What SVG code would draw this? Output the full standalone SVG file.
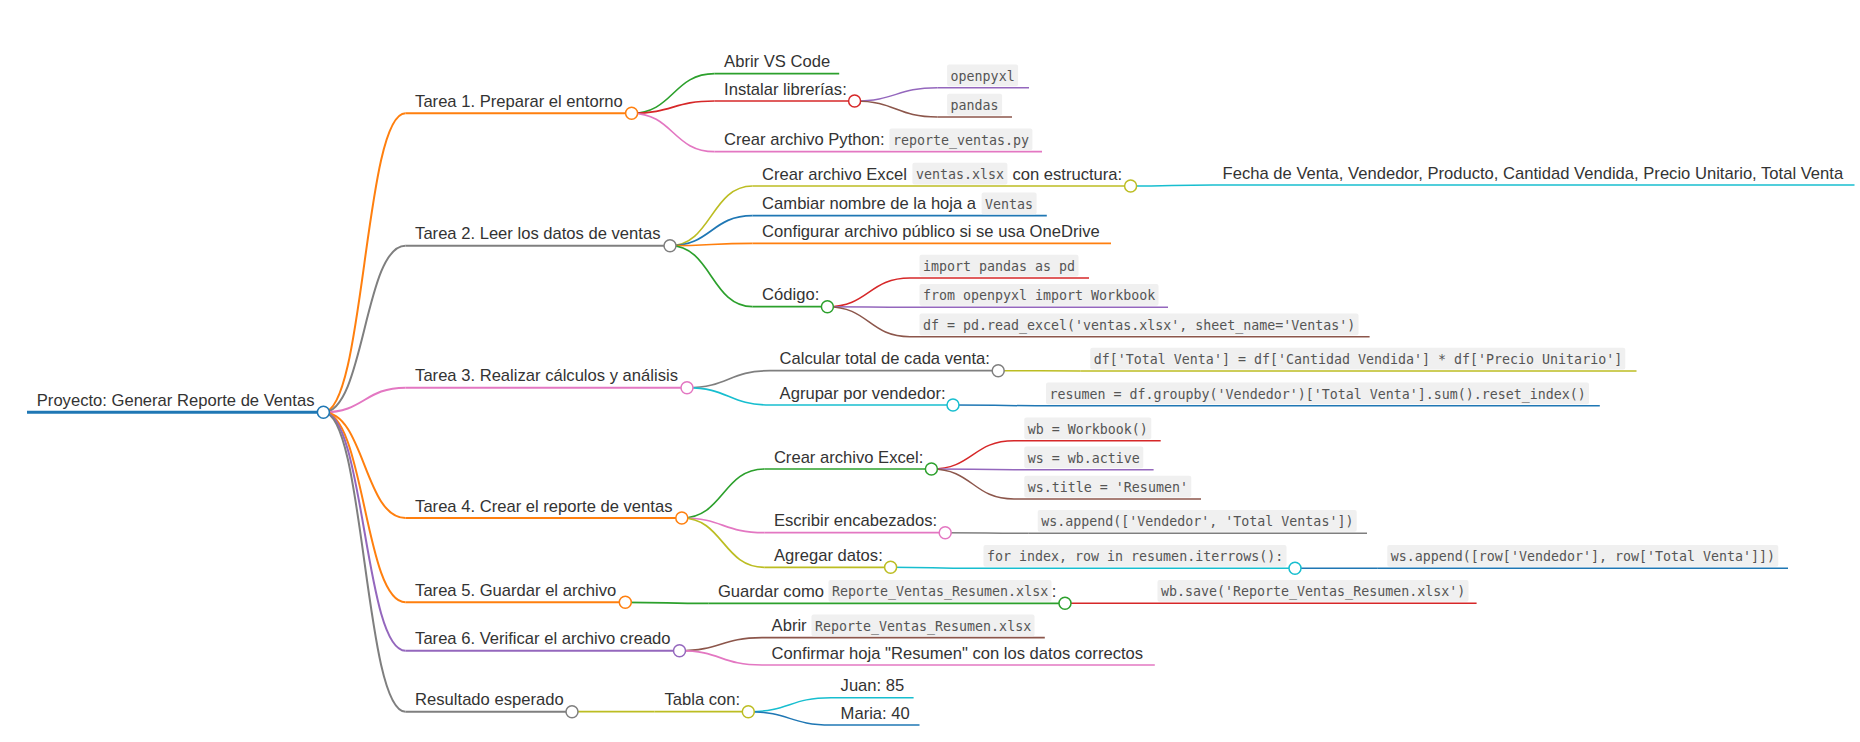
<svg xmlns="http://www.w3.org/2000/svg" width="1860" height="742" viewBox="0 0 1860 742">
<style>
  .t { font-family: "Liberation Sans", Arial, sans-serif; font-size: 16.6px; fill: #333; }
  .c { font-family: "DejaVu Sans Mono", monospace; font-size: 13.3px; fill: #555; }
  .box { fill: #f0f0f0; }
  .lnk { fill: none; }
  .dot { fill: #fff; stroke-width: 1.5; }
  .d0 { stroke-width: 3; } .d1 { stroke-width: 2; } .d2 { stroke-width: 1.67; } .d3 { stroke-width: 1.5; } .d4 { stroke-width: 1.4; }
  .blue { stroke: #1f77b4; } .orange { stroke: #ff7f0e; } .green { stroke: #2ca02c; } .red { stroke: #d62728; }
  .purple { stroke: #9467bd; } .brown { stroke: #8c564b; } .pink { stroke: #e377c2; } .gray { stroke: #7f7f7f; }
  .olive { stroke: #bcbd22; } .cyan { stroke: #17becf; }
</style>
<rect width="1860" height="742" fill="#fff"/>
<g id="connectors" class="lnk">
  <path class="d1 orange" d="M323.4,412.3 C364.45,412.3 364.45,113.3 405.5,113.3"/>
  <path class="d1 gray" d="M323.4,412.3 C364.45,412.3 364.45,245.7 405.5,245.7"/>
  <path class="d1 pink" d="M323.4,412.3 C364.45,412.3 364.45,387.7 405.5,387.7"/>
  <path class="d1 orange" d="M323.4,412.3 C364.45,412.3 364.45,518 405.5,518"/>
  <path class="d1 orange" d="M323.4,412.3 C364.45,412.3 364.45,602.3 405.5,602.3"/>
  <path class="d1 purple" d="M323.4,412.3 C364.45,412.3 364.45,650.7 405.5,650.7"/>
  <path class="d1 gray" d="M323.4,412.3 C364.45,412.3 364.45,711.7 405.5,711.7"/>

  <path class="d2 green" d="M631.6,113.3 C673.05,113.3 673.05,73.7 714.5,73.7"/>
  <path class="d2 red" d="M631.6,113.3 C673.05,113.3 673.05,101 714.5,101"/>
  <path class="d2 pink" d="M631.6,113.3 C673.05,113.3 673.05,151.7 714.5,151.7"/>
  <path class="d3 purple" d="M854.6,101 C896.05,101 896.05,87.7 937.5,87.7"/>
  <path class="d3 brown" d="M854.6,101 C896.05,101 896.05,117 937.5,117"/>

  <path class="d2 olive" d="M670,245.7 C711.25,245.7 711.25,186 752.5,186"/>
  <path class="d2 blue" d="M670,245.7 C711.25,245.7 711.25,215.7 752.5,215.7"/>
  <path class="d2 orange" d="M670,245.7 C711.25,245.7 711.25,243.3 752.5,243.3"/>
  <path class="d2 green" d="M670,245.7 C711.25,245.7 711.25,306.7 752.5,306.7"/>
  <path class="d3 cyan" d="M1130.6,186 C1171.8,186 1171.8,185 1213,185"/>
  <path class="d3 red" d="M827.4,306.7 C868.7,306.7 868.7,278 910,278"/>
  <path class="d3 purple" d="M827.4,306.7 C868.7,306.7 868.7,307.3 910,307.3"/>
  <path class="d3 brown" d="M827.4,306.7 C868.7,306.7 868.7,336.7 910,336.7"/>

  <path class="d2 gray" d="M687,387.7 C728.5,387.7 728.5,370.7 770,370.7"/>
  <path class="d2 cyan" d="M687,387.7 C728.5,387.7 728.5,405 770,405"/>
  <path class="d3 olive" d="M998.2,370.7 C1039.45,370.7 1039.45,371 1080.7,371"/>
  <path class="d3 blue" d="M953,405 C994.5,405 994.5,405.7 1036,405.7"/>

  <path class="d2 green" d="M681.8,518 C723.05,518 723.05,469 764.3,469"/>
  <path class="d2 pink" d="M681.8,518 C723.05,518 723.05,532.7 764.3,532.7"/>
  <path class="d2 olive" d="M681.8,518 C723.05,518 723.05,567.3 764.3,567.3"/>
  <path class="d3 red" d="M931.4,469 C972.7,469 972.7,440.7 1014,440.7"/>
  <path class="d3 purple" d="M931.4,469 C972.7,469 972.7,469.7 1014,469.7"/>
  <path class="d3 brown" d="M931.4,469 C972.7,469 972.7,499 1014,499"/>
  <path class="d3 gray" d="M945.2,532.7 C986.7,532.7 986.7,533.3 1028.2,533.3"/>
  <path class="d3 cyan" d="M890.6,567.3 C932.3,567.3 932.3,568.3 974,568.3"/>
  <path class="d4 blue" d="M1295,568.3 C1336.4,568.3 1336.4,568.3 1377.8,568.3"/>

  <path class="d2 green" d="M625.3,602.3 C666.8,602.3 666.8,603.3 708.3,603.3"/>
  <path class="d3 red" d="M1065,603.3 C1106.5,603.3 1106.5,603.3 1148,603.3"/>

  <path class="d2 brown" d="M679.5,650.7 C720.75,650.7 720.75,637.7 762,637.7"/>
  <path class="d2 pink" d="M679.5,650.7 C720.75,650.7 720.75,665 762,665"/>

  <path class="d2 olive" d="M572,711.7 C613.25,711.7 613.25,711.7 654.5,711.7"/>
  <path class="d3 cyan" d="M748.3,711.7 C789.65,711.7 789.65,697.7 831,697.7"/>
  <path class="d3 blue" d="M748.3,711.7 C789.65,711.7 789.65,725 831,725"/>
</g>

<g id="root">
  <line class="d0 blue" x1="27" y1="412.3" x2="323.4" y2="412.3"/>
  <text class="t" x="36.8" y="405.8">Proyecto: Generar Reporte de Ventas</text>
  <circle class="dot blue" cx="323.4" cy="412.3" r="6"/>
</g>

<g id="tarea1">
  <line class="d1 orange" x1="405.5" y1="113.3" x2="631.6" y2="113.3"/>
  <text class="t" x="415.1" y="106.8">Tarea 1. Preparar el entorno</text>
  <circle class="dot orange" cx="631.6" cy="113.3" r="6"/>
</g>
<g id="abrir-vscode">
  <line class="d2 green" x1="714.5" y1="73.7" x2="839.2" y2="73.7"/>
  <text class="t" x="724.1" y="67.2">Abrir VS Code</text>
</g>
<g id="instalar">
  <line class="d2 red" x1="714.5" y1="101" x2="854.6" y2="101"/>
  <text class="t" x="724.1" y="94.5">Instalar librerías:</text>
  <circle class="dot red" cx="854.6" cy="101" r="6"/>
</g>
<g id="openpyxl">
  <line class="d3 purple" x1="937.5" y1="87.7" x2="1029" y2="87.7"/>
  <rect class="box" x="947.1" y="64.5" width="71" height="21.7" rx="2"/>
  <text class="c" x="950.6" y="80.7">openpyxl</text>
</g>
<g id="pandas">
  <line class="d3 brown" x1="937.5" y1="117" x2="1012" y2="117"/>
  <rect class="box" x="947.1" y="93.8" width="55" height="21.7" rx="2"/>
  <text class="c" x="950.6" y="110">pandas</text>
</g>
<g id="crear-python">
  <line class="d2 pink" x1="714.5" y1="151.7" x2="1042" y2="151.7"/>
  <text class="t" x="724.1" y="145.2">Crear archivo Python:</text>
  <rect class="box" x="889.4" y="128.5" width="143" height="21.7" rx="2"/>
  <text class="c" x="892.9" y="144.7">reporte_ventas.py</text>
</g>

<g id="tarea2">
  <line class="d1 gray" x1="405.5" y1="245.7" x2="670" y2="245.7"/>
  <text class="t" x="415.1" y="239.2">Tarea 2. Leer los datos de ventas</text>
  <circle class="dot gray" cx="670" cy="245.7" r="6"/>
</g>
<g id="crear-excel-ventas">
  <line class="d2 olive" x1="752.5" y1="186" x2="1130.6" y2="186"/>
  <text class="t" x="762.1" y="179.5">Crear archivo Excel</text>
  <rect class="box" x="912.4" y="162.8" width="95" height="21.7" rx="2"/>
  <text class="c" x="915.9" y="179">ventas.xlsx</text>
  <text class="t" x="1012.4" y="179.5">con estructura:</text>
  <circle class="dot olive" cx="1130.6" cy="186" r="6"/>
</g>
<g id="estructura">
  <line class="d3 cyan" x1="1213" y1="185" x2="1854.5" y2="185"/>
  <text class="t" x="1222.6" y="178.5">Fecha de Venta, Vendedor, Producto, Cantidad Vendida, Precio Unitario, Total Venta</text>
</g>
<g id="cambiar-nombre">
  <line class="d2 blue" x1="752.5" y1="215.7" x2="1046.8" y2="215.7"/>
  <text class="t" x="762.1" y="209.2">Cambiar nombre de la hoja a</text>
  <rect class="box" x="981.6" y="192.5" width="55" height="21.7" rx="2"/>
  <text class="c" x="985.1" y="208.7">Ventas</text>
</g>
<g id="configurar">
  <line class="d2 orange" x1="752.5" y1="243.3" x2="1111" y2="243.3"/>
  <text class="t" x="762.1" y="236.8">Configurar archivo público si se usa OneDrive</text>
</g>
<g id="codigo">
  <line class="d2 green" x1="752.5" y1="306.7" x2="827.4" y2="306.7"/>
  <text class="t" x="762.1" y="300.2">Código:</text>
  <circle class="dot green" cx="827.4" cy="306.7" r="6"/>
</g>
<g id="import-pandas">
  <line class="d3 red" x1="910" y1="278" x2="1089" y2="278"/>
  <rect class="box" x="919.5" y="254.8" width="159" height="21.7" rx="2"/>
  <text class="c" x="923" y="271">import pandas as pd</text>
</g>
<g id="from-openpyxl">
  <line class="d3 purple" x1="910" y1="307.3" x2="1168" y2="307.3"/>
  <rect class="box" x="919.5" y="284.1" width="239" height="21.7" rx="2"/>
  <text class="c" x="923" y="300.3">from openpyxl import Workbook</text>
</g>
<g id="read-excel">
  <line class="d3 brown" x1="910" y1="336.7" x2="1369.6" y2="336.7"/>
  <rect class="box" x="919.5" y="313.5" width="439" height="21.7" rx="2"/>
  <text class="c" x="923" y="329.7">df = pd.read_excel('ventas.xlsx', sheet_name='Ventas')</text>
</g>

<g id="tarea3">
  <line class="d1 pink" x1="405.5" y1="387.7" x2="687" y2="387.7"/>
  <text class="t" x="415.1" y="381.2">Tarea 3. Realizar cálculos y análisis</text>
  <circle class="dot pink" cx="687" cy="387.7" r="6"/>
</g>
<g id="calcular">
  <line class="d2 gray" x1="770" y1="370.7" x2="998.2" y2="370.7"/>
  <text class="t" x="779.6" y="364.2">Calcular total de cada venta:</text>
  <circle class="dot gray" cx="998.2" cy="370.7" r="6"/>
</g>
<g id="total-venta">
  <line class="d3 olive" x1="1080.7" y1="371" x2="1636.5" y2="371"/>
  <rect class="box" x="1090.3" y="347.8" width="535" height="21.7" rx="2"/>
  <text class="c" x="1093.8" y="364">df['Total Venta'] = df['Cantidad Vendida'] * df['Precio Unitario']</text>
</g>
<g id="agrupar">
  <line class="d2 cyan" x1="770" y1="405" x2="953" y2="405"/>
  <text class="t" x="779.6" y="398.5">Agrupar por vendedor:</text>
  <circle class="dot cyan" cx="953" cy="405" r="6"/>
</g>
<g id="resumen">
  <line class="d3 blue" x1="1036" y1="405.7" x2="1599.8" y2="405.7"/>
  <rect class="box" x="1046" y="382.5" width="543" height="21.7" rx="2"/>
  <text class="c" x="1049.5" y="398.7">resumen = df.groupby('Vendedor')['Total Venta'].sum().reset_index()</text>
</g>

<g id="tarea4">
  <line class="d1 orange" x1="405.5" y1="518" x2="681.8" y2="518"/>
  <text class="t" x="415.1" y="511.5">Tarea 4. Crear el reporte de ventas</text>
  <circle class="dot orange" cx="681.8" cy="518" r="6"/>
</g>
<g id="crear-excel">
  <line class="d2 green" x1="764.3" y1="469" x2="931.4" y2="469"/>
  <text class="t" x="773.9" y="462.5">Crear archivo Excel:</text>
  <circle class="dot green" cx="931.4" cy="469" r="6"/>
</g>
<g id="wb">
  <line class="d3 red" x1="1014" y1="440.7" x2="1160.7" y2="440.7"/>
  <rect class="box" x="1024.3" y="417.5" width="127" height="21.7" rx="2"/>
  <text class="c" x="1027.8" y="433.7">wb = Workbook()</text>
</g>
<g id="ws">
  <line class="d3 purple" x1="1014" y1="469.7" x2="1153.6" y2="469.7"/>
  <rect class="box" x="1024.3" y="446.5" width="119" height="21.7" rx="2"/>
  <text class="c" x="1027.8" y="462.7">ws = wb.active</text>
</g>
<g id="ws-title">
  <line class="d3 brown" x1="1014" y1="499" x2="1201" y2="499"/>
  <rect class="box" x="1024.3" y="475.8" width="167" height="21.7" rx="2"/>
  <text class="c" x="1027.8" y="492">ws.title = 'Resumen'</text>
</g>
<g id="escribir">
  <line class="d2 pink" x1="764.3" y1="532.7" x2="945.2" y2="532.7"/>
  <text class="t" x="773.9" y="526.2">Escribir encabezados:</text>
  <circle class="dot pink" cx="945.2" cy="532.7" r="6"/>
</g>
<g id="append-headers">
  <line class="d3 gray" x1="1028.2" y1="533.3" x2="1367" y2="533.3"/>
  <rect class="box" x="1037.7" y="510.1" width="319" height="21.7" rx="2"/>
  <text class="c" x="1041.2" y="526.3">ws.append(['Vendedor', 'Total Ventas'])</text>
</g>
<g id="agregar">
  <line class="d2 olive" x1="764.3" y1="567.3" x2="890.6" y2="567.3"/>
  <text class="t" x="773.9" y="560.8">Agregar datos:</text>
  <circle class="dot olive" cx="890.6" cy="567.3" r="6"/>
</g>
<g id="for-loop">
  <line class="d3 cyan" x1="974" y1="568.3" x2="1295" y2="568.3"/>
  <rect class="box" x="983.5" y="545.1" width="303" height="21.7" rx="2"/>
  <text class="c" x="987" y="561.3">for index, row in resumen.iterrows():</text>
  <circle class="dot cyan" cx="1295" cy="568.3" r="6"/>
</g>
<g id="append-row">
  <line class="d4 blue" x1="1377.8" y1="568.3" x2="1788" y2="568.3"/>
  <rect class="box" x="1387.3" y="545.1" width="391" height="21.7" rx="2"/>
  <text class="c" x="1390.8" y="561.3">ws.append([row['Vendedor'], row['Total Venta']])</text>
</g>

<g id="tarea5">
  <line class="d1 orange" x1="405.5" y1="602.3" x2="625.3" y2="602.3"/>
  <text class="t" x="415.1" y="595.8">Tarea 5. Guardar el archivo</text>
  <circle class="dot orange" cx="625.3" cy="602.3" r="6"/>
</g>
<g id="guardar">
  <line class="d2 green" x1="708.3" y1="603.3" x2="1065" y2="603.3"/>
  <text class="t" x="717.9" y="596.8">Guardar como</text>
  <rect class="box" x="828.5" y="580.1" width="223" height="21.7" rx="2"/>
  <text class="c" x="832" y="596.3">Reporte_Ventas_Resumen.xlsx</text>
  <text class="t" x="1051.8" y="596.8">:</text>
  <circle class="dot green" cx="1065" cy="603.3" r="6"/>
</g>
<g id="wb-save">
  <line class="d3 red" x1="1148" y1="603.3" x2="1476.6" y2="603.3"/>
  <rect class="box" x="1157.5" y="580.1" width="311" height="21.7" rx="2"/>
  <text class="c" x="1161" y="596.3">wb.save('Reporte_Ventas_Resumen.xlsx')</text>
</g>

<g id="tarea6">
  <line class="d1 purple" x1="405.5" y1="650.7" x2="679.5" y2="650.7"/>
  <text class="t" x="415.1" y="644.2">Tarea 6. Verificar el archivo creado</text>
  <circle class="dot purple" cx="679.5" cy="650.7" r="6"/>
</g>
<g id="abrir-reporte">
  <line class="d2 brown" x1="762" y1="637.7" x2="1044.8" y2="637.7"/>
  <text class="t" x="771.6" y="631.2">Abrir</text>
  <rect class="box" x="811.5" y="614.5" width="223" height="21.7" rx="2"/>
  <text class="c" x="815" y="630.7">Reporte_Ventas_Resumen.xlsx</text>
</g>
<g id="confirmar">
  <line class="d2 pink" x1="762" y1="665" x2="1154.8" y2="665"/>
  <text class="t" x="771.6" y="658.5">Confirmar hoja "Resumen" con los datos correctos</text>
</g>

<g id="resultado">
  <line class="d1 gray" x1="405.5" y1="711.7" x2="572" y2="711.7"/>
  <text class="t" x="415.1" y="705.2">Resultado esperado</text>
  <circle class="dot gray" cx="572" cy="711.7" r="6"/>
</g>
<g id="tabla">
  <line class="d2 olive" x1="654.5" y1="711.7" x2="748.3" y2="711.7"/>
  <text class="t" x="664.5" y="705.2">Tabla con:</text>
  <circle class="dot olive" cx="748.3" cy="711.7" r="6"/>
</g>
<g id="juan">
  <line class="d3 cyan" x1="831" y1="697.7" x2="913.6" y2="697.7"/>
  <text class="t" x="840.6" y="691.2">Juan: 85</text>
</g>
<g id="maria">
  <line class="d3 blue" x1="831" y1="725" x2="919.5" y2="725"/>
  <text class="t" x="840.6" y="718.5">Maria: 40</text>
</g>
</svg>
